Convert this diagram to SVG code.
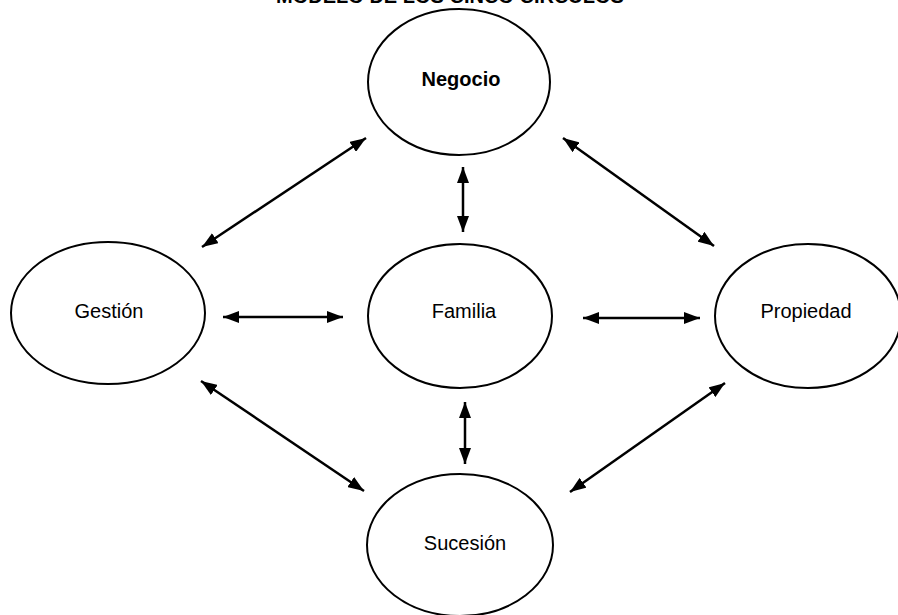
<svg xmlns="http://www.w3.org/2000/svg" width="898" height="615" viewBox="0 0 898 615">
  <style>
    .node ellipse { fill: #ffffff; stroke: #000000; stroke-width: 2; }
    .lbl { font-family: "Liberation Sans", Arial, sans-serif; font-size: 20px; fill: #000000; text-anchor: middle; }
    .bold { font-weight: bold; }
    .conn line { stroke: #000000; stroke-width: 2.5; marker-start: url(#ah); marker-end: url(#ah); }
  </style>
  <defs>
    <marker id="ah" viewBox="0 0 16 12" refX="16" refY="6" markerWidth="16" markerHeight="12" markerUnits="userSpaceOnUse" orient="auto-start-reverse">
      <path d="M0,0 L16,6 L0,12 z" fill="#000000"/>
    </marker>
  </defs>
  <rect x="0" y="0" width="898" height="615" fill="#ffffff"/>
  <text class="lbl bold" x="450" y="3">MODELO DE LOS CINCO CÍRCULOS</text>

  <g id="negocio" class="node">
    <ellipse cx="459" cy="82" rx="91" ry="73"/>
    <text class="lbl bold" x="461" y="86">Negocio</text>
  </g>
  <g id="gestion" class="node">
    <ellipse cx="108" cy="313" rx="97" ry="71"/>
    <text class="lbl" x="109" y="318">Gestión</text>
  </g>
  <g id="familia" class="node">
    <ellipse cx="460" cy="316" rx="92" ry="72"/>
    <text class="lbl" x="464" y="318">Familia</text>
  </g>
  <g id="propiedad" class="node">
    <ellipse cx="808" cy="316" rx="93" ry="72"/>
    <text class="lbl" x="806" y="318">Propiedad</text>
  </g>
  <g id="sucesion" class="node">
    <ellipse cx="460" cy="545" rx="93" ry="71"/>
    <text class="lbl" x="465" y="550">Sucesión</text>
  </g>

  <g id="connectors" class="conn">
    <line x1="202" y1="247" x2="366" y2="138"/>
    <line x1="223" y1="317" x2="343" y2="317"/>
    <line x1="463" y1="167" x2="463" y2="232"/>
    <line x1="563" y1="138" x2="714" y2="246"/>
    <line x1="583" y1="318" x2="700" y2="318"/>
    <line x1="465" y1="402" x2="465" y2="464"/>
    <line x1="201" y1="381" x2="364" y2="491"/>
    <line x1="725" y1="383" x2="570" y2="492"/>
  </g>
</svg>
